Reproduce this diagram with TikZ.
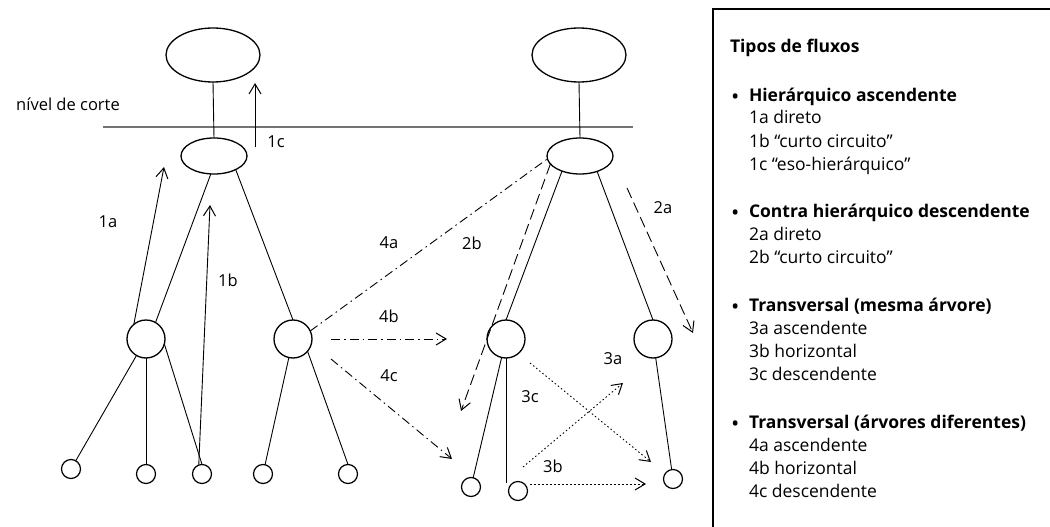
\documentclass[tikz,border=0pt]{standalone}
\usepackage{fontspec}
\setmainfont{Open Sans}
\usetikzlibrary{shapes.geometric,arrows.meta}
\newcommand{\bul}{\makebox[18pt][l]{\raisebox{-3pt}{\fontsize{22}{20}\selectfont •}}}
\begin{document}
\begin{tikzpicture}[x=1pt,y=-1pt,
  every node/.style={inner sep=0pt, outer sep=0pt},
  bigell/.style={draw, ellipse, line width=1.3pt, minimum width=94pt, minimum height=54pt},
  smallell/.style={draw, ellipse, line width=1.3pt, minimum width=66pt, minimum height=36pt},
  midc/.style={draw, circle, line width=1.3pt, minimum size=38pt},
  leaf/.style={draw, circle, line width=1.2pt, minimum size=19pt},
  edge/.style={line width=0.9pt},
  tip/.style={-{Straight Barb[length=10pt,width=12pt,line width=1pt]}},
  dashline/.style={line width=0.9pt, dash pattern=on 11pt off 5pt},
  ddline/.style={line width=0.9pt, dash pattern=on 9pt off 4pt on 1.5pt off 4pt},
  dotline/.style={line width=0.9pt, dash pattern=on 1.5pt off 2.5pt},
  lbl/.style={font=\fontsize{16.5}{20}\selectfont},
  leg/.style={font=\fontsize{17.5}{20}\selectfont, anchor=base west},
  cutline/.style={line width=1.5pt, draw=black!55}
]
\useasboundingbox (0,0) rectangle (1050,527);

% legend frame
\draw[line width=1.5pt] (1050,9) -- (713,9) -- (713,527);

% cut line
\coordinate (cutL) at (103,127);
\coordinate (cutR) at (633,127);
\draw[cutline] (cutL) -- (cutR);
\node[lbl] (cutlbl) at (68,104) {nível de corte};

% left tree
\node[bigell] (LT) at (213,55) {};
\node[smallell] (LS) at (214,156) {};
\node[midc] (L1) at (146,339) {};
\node[midc] (L2) at (293,339) {};
\node[leaf] (a) at (71,469) {};
\node[leaf] (b) at (146,474) {};
\node[leaf] (c) at (202,474) {};
\node[leaf] (d) at (263,474) {};
\node[leaf] (e) at (348,474) {};

\draw[edge] (LT.south) -- (LS.north);
\draw[edge] (LS.-100) -- (L1.60);
\draw[edge] (LS.-32) -- (L2.north);
\draw[edge] (L1) -- (a);
\draw[edge] (L1.south) -- (b.north);
\draw[edge] (L1.-15) -- (c.north);
\draw[edge] (L2) -- (d);
\draw[edge] (L2.-40) -- (e.north);

% right tree
\node[bigell] (RT) at (579,55) {};
\node[smallell] (RS) at (580,156) {};
\node[midc] (R1) at (506,339) {};
\node[midc] (R2) at (653,339) {};
\node[leaf] (f) at (471,487) {};
\node[leaf] (g) at (518,491) {};
\node[leaf] (h) at (673,479) {};
\coordinate (R1end) at (506,483);

\draw[edge] (RT.south) -- (RS.north);
\draw[edge] (RS.-140) -- (R1.north);
\draw[edge] (RS.-42) -- (R2.north);
\draw[edge] (R1) -- (f);
\draw[edge] (R1.south) -- (R1end);
\draw[edge] (R2) -- (h);

% flow 1
\coordinate (e1a) at (164,167);
\coordinate (e1b) at (210,205);
\coordinate (s1c) at (255,147);
\coordinate (e1c) at (255,83);
\draw[edge,tip] (L1.130) -- (e1a);
\draw[edge,tip] (c.110) -- (e1b);
\draw[edge,tip] (s1c) -- (e1c);
\node[lbl] (l1a) at (108,222) {1a};
\node[lbl] (l1b) at (228,280) {1b};
\node[lbl] (l1c) at (276,142) {1c};

% flow 2
\coordinate (s2a) at (627,188);
\coordinate (e2a) at (693,333);
\coordinate (e2b) at (461,411);
\draw[dashline,tip] (s2a) -- (e2a);
\draw[dashline,tip] (RS.195) -- (e2b);
\node[lbl] (l2a) at (663,208) {2a};
\node[lbl] (l2b) at (472,243) {2b};

% flow 4
\coordinate (s4b) at (331,339);
\coordinate (e4b) at (447,339);
\coordinate (s4c) at (331,359);
\coordinate (e4c) at (452,459);
\draw[ddline] (L2.25) -- (RS.185);
\draw[ddline,tip] (s4b) -- (e4b);
\draw[ddline,tip] (s4c) -- (e4c);
\node[lbl] (l4a) at (389,243) {4a};
\node[lbl] (l4b) at (389,316) {4b};
\node[lbl] (l4c) at (389,376) {4c};

% flow 3
\coordinate (s3a) at (523,467);
\coordinate (e3a) at (623,383);
\coordinate (s3b) at (530,484);
\coordinate (e3b) at (646,484);
\coordinate (s3c) at (530,363);
\coordinate (e3c) at (651,462);
\draw[dotline,tip] (s3a) -- (e3a);
\draw[dotline,tip] (s3b) -- (e3b);
\draw[dotline,tip] (s3c) -- (e3c);
\node[lbl] (l3a) at (613,359) {3a};
\node[lbl] (l3b) at (553,466) {3b};
\node[lbl] (l3c) at (530,397) {3c};

% legend text
\node[leg] (t0) at (730,53) {\bfseries Tipos de fluxos};
\node[leg] (h1) at (731,101) {\bul\bfseries Hierárquico ascendente};
\node[leg] (i1a) at (749,124) {1a direto};
\node[leg] (i1b) at (749,147) {1b “curto circuito”};
\node[leg] (i1c) at (749,170) {1c “eso-hierárquico”};
\node[leg] (h2) at (731,217) {\bul\bfseries Contra hierárquico descendente};
\node[leg] (i2a) at (749,240) {2a direto};
\node[leg] (i2b) at (749,263) {2b “curto circuito”};
\node[leg] (h3) at (731,311) {\bul\bfseries Transversal (mesma árvore)};
\node[leg] (i3a) at (749,334) {3a ascendente};
\node[leg] (i3b) at (749,357) {3b horizontal};
\node[leg] (i3c) at (749,380) {3c descendente};
\node[leg] (h4) at (731,428) {\bul\bfseries Transversal (árvores diferentes)};
\node[leg] (i4a) at (749,451) {4a ascendente};
\node[leg] (i4b) at (749,474) {4b horizontal};
\node[leg] (i4c) at (749,497) {4c descendente};
\end{tikzpicture}
\end{document}
